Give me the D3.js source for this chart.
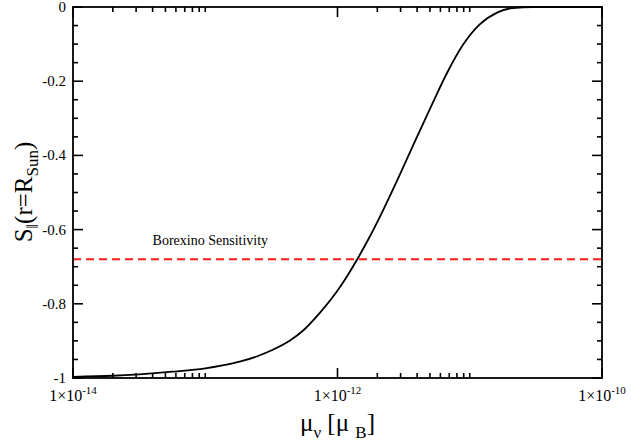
<!DOCTYPE html>
<html>
<head>
<meta charset="utf-8">
<script src="https://cdn.jsdelivr.net/npm/d3@7"></script>
<style>
    body { margin: 0; background: #fff; }
    svg text { font-family: "Liberation Serif", "Times New Roman", serif; fill: #000; }
</style>
</head>
<body>
<svg id="chart" width="631" height="445" font-family="Liberation Serif, serif"></svg>
<script>
    // curve: magnetic moment (in Bohr magnetons) vs S||
    var muValues = [1e-14, 2e-14, 3.16e-14, 5.62e-14, 1e-13, 1.35e-13, 1.82e-13, 2.45e-13, 3.24e-13,
        4.37e-13, 5.5e-13, 7.38e-13, 1.045e-12, 1.4e-12, 1.76e-12, 2.21e-12, 2.96e-12, 3.85e-12,
        5.27e-12, 6.73e-12, 8.89e-12, 1.19e-11, 1.61e-11, 2.12e-11, 3e-11, 1e-10];
    var sValues = [-0.997, -0.994, -0.990, -0.983, -0.974, -0.966, -0.956, -0.942, -0.924,
        -0.899, -0.872, -0.824, -0.755, -0.682, -0.618, -0.548, -0.452, -0.362,
        -0.257, -0.178, -0.102, -0.047, -0.015, -0.003, 0, 0];

    var borexinoLevel = -0.68;
    var borexinoLabel = 'Borexino Sensitivity';

    var xMajorTicks = [1e-14, 1e-12, 1e-10];
    var xMajorExponents = ['-14', '-12', '-10'];
    var xMinorTicks = [2e-14, 3e-14, 4e-14, 5e-14, 6e-14, 7e-14, 8e-14, 9e-14, 1e-13,
        2e-12, 3e-12, 4e-12, 5e-12, 6e-12, 7e-12, 8e-12, 9e-12, 1e-11];
    var yMajorTicks = [0, -0.2, -0.4, -0.6, -0.8, -1];
    var yMajorLabels = ['0', '-0.2', '-0.4', '-0.6', '-0.8', '-1'];
    var yMinorTicks = [-0.05, -0.1, -0.15, -0.25, -0.3, -0.35, -0.45, -0.5, -0.55,
        -0.65, -0.7, -0.75, -0.85, -0.9, -0.95];

    var margin = {top: 7, right: 29, bottom: 67, left: 73};
    var width = 631 - margin.left - margin.right;
    var height = 445 - margin.top - margin.bottom;

    var svg = d3.select('#chart');
    var g = svg.append('g')
        .attr('transform', 'translate(' + margin.left + ',' + margin.top + ')');

    var x = d3.scaleLog().domain([1e-14, 1e-10]).range([0, width]);
    var y = d3.scaleLinear().domain([-1, 0]).range([height, 0]);

    // tick labels
    g.selectAll('.ylabel')
        .data(yMajorTicks)
        .enter().append('text')
        .attr('class', 'ylabel')
        .attr('x', -7)
        .attr('y', function(d) { return y(d); })
        .attr('dy', '0.33em')
        .attr('text-anchor', 'end')
        .style('font-size', '15px')
        .text(function(d, i) { return yMajorLabels[i]; });

    var xl = g.selectAll('.xlabel')
        .data(xMajorTicks)
        .enter().append('text')
        .attr('class', 'xlabel')
        .attr('x', function(d) { return x(d); })
        .attr('y', height + 23)
        .attr('text-anchor', 'middle')
        .style('font-size', '16px');
    xl.append('tspan').text('1\u00d710');
    xl.append('tspan')
        .attr('dy', -7)
        .style('font-size', '11px')
        .text(function(d, i) { return xMajorExponents[i]; });

    // sensitivity line
    g.append('line')
        .attr('x1', 0)
        .attr('x2', width)
        .attr('y1', y(borexinoLevel))
        .attr('y2', y(borexinoLevel))
        .attr('stroke', '#ff1a1a')
        .attr('stroke-width', 2)
        .attr('stroke-dasharray', '8,5');

    g.append('text')
        .attr('x', x(4e-14))
        .attr('y', y(borexinoLevel) - 14)
        .style('font-size', '14px')
        .text(borexinoLabel);

    var line = d3.line()
        .x(function(d) { return x(d[0]); })
        .y(function(d) { return y(d[1]); })
        .curve(d3.curveMonotoneX);

    g.append('path')
        .datum(d3.zip(muValues, sValues))
        .attr('d', line)
        .attr('fill', 'none')
        .attr('stroke', '#000')
        .attr('stroke-width', 1.8);

    // frame
    g.append('rect')
        .attr('width', width)
        .attr('height', height)
        .attr('fill', 'none')
        .attr('stroke', '#000')
        .attr('stroke-width', 1.8);

    // inward ticks on all four sides, drawn last
    function addTick(x1, y1, x2, y2) {
        g.append('line')
            .attr('x1', x1).attr('y1', y1)
            .attr('x2', x2).attr('y2', y2)
            .attr('stroke', '#000')
            .attr('stroke-width', 1.6);
    }
    function xTicks(values, size) {
        values.forEach(function(d) {
            addTick(x(d), height, x(d), height - size);
            addTick(x(d), 0, x(d), size);
        });
    }
    function yTicks(values, size) {
        values.forEach(function(d) {
            addTick(0, y(d), size, y(d));
            addTick(width, y(d), width - size, y(d));
        });
    }
    xTicks(xMajorTicks, 10);
    xTicks(xMinorTicks, 5);
    yTicks(yMajorTicks, 10);
    yTicks(yMinorTicks, 5);

    // axis titles
    var xt = svg.append('text')
        .attr('x', margin.left + width / 2)
        .attr('y', 431)
        .attr('text-anchor', 'middle')
        .style('font-size', '25px');
    xt.append('tspan').text('\u03bc');
    xt.append('tspan').attr('dy', 7).style('font-size', '17px').text('\u03bd');
    xt.append('tspan').attr('dy', -7).text(' [\u03bc ');
    xt.append('tspan').attr('dy', 7).style('font-size', '17px').text('B');
    xt.append('tspan').attr('dy', -7).text(']');

    var yt = svg.append('text')
        .attr('transform', 'translate(32,' + (margin.top + 185) + ') rotate(-90)')
        .attr('text-anchor', 'middle')
        .style('font-size', '25px');
    yt.append('tspan').text('S');
    yt.append('tspan').attr('dy', 6).style('font-size', '16px').text('\u2016');
    yt.append('tspan').attr('dy', -6).text('(r=R');
    yt.append('tspan').attr('dy', 6).style('font-size', '17px').text('Sun');
    yt.append('tspan').attr('dy', -6).text(')');
</script>
</body>
</html>
